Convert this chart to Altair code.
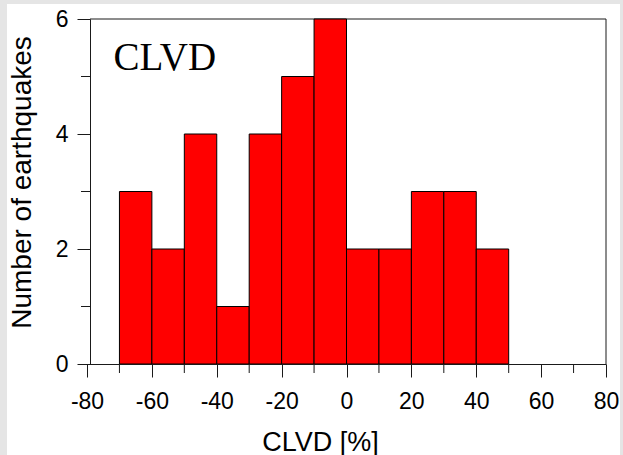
import altair as alt
import pandas as pd

# Histogram of CLVD percentages (10 % bins)
bin_start = [-70, -60, -50, -40, -30, -20, -10, 0, 10, 20, 30, 40]
bin_end = [-60, -50, -40, -30, -20, -10, 0, 10, 20, 30, 40, 50]
counts = [3, 2, 4, 1, 4, 5, 6, 2, 2, 3, 3, 2]

x_major = [-80, -60, -40, -20, 0, 20, 40, 60, 80]
x_minor = [-70, -50, -30, -10, 10, 30, 50, 70]
y_major = [0, 2, 4, 6]
y_minor = [1, 3, 5]

W, H = 519, 345
INK = "#1a1a1a"
SANS = "Liberation Sans"

bars_df = pd.DataFrame({"start": bin_start, "end": bin_end, "count": counts})
xminor_df = pd.DataFrame({"v": x_minor})
yminor_df = pd.DataFrame({"v": y_minor})
one = pd.DataFrame({"a": [0]})

xs = alt.Scale(domain=[-80, 80], nice=False, zero=False)
ys = alt.Scale(domain=[0, 6], nice=False, zero=False)

x_axis = alt.Axis(
    values=x_major, title="CLVD [%]", grid=False, zindex=1,
    tickSize=13, tickColor=INK, domainColor=INK, tickWidth=1, domainWidth=1,
    labelFont=SANS, labelFontSize=23, labelColor="black", labelPadding=13,
    labelFlush=False, labelOverlap=False, labelExpr="datum.value + ''",
    titleFont=SANS, titleFontSize=27, titleFontWeight="normal", titleColor="black",
    titleX=233, titleY=86, titleBaseline="alphabetic",
)
y_axis = alt.Axis(
    values=y_major, title="Number of earthquakes", grid=False, zindex=1, offset=-3,
    tickSize=13, tickColor=INK, domainColor=INK, tickWidth=1, domainWidth=1,
    labelFont=SANS, labelFontSize=23, labelColor="black", labelPadding=9,
    labelOverlap=False, labelExpr="datum.value + ''",
    titleFont=SANS, titleFontSize=28, titleFontWeight="normal", titleColor="black",
    titleY=163, titlePadding=19,
)

# white sheet behind the figure (the page itself is grey)
sheet = alt.Chart(one).mark_rect(fill="white").encode(
    x=alt.value(-80), x2=alt.value(533), y=alt.value(-15), y2=alt.value(441)
)

bars = alt.Chart(bars_df).mark_rect(fill="#ff0000", stroke="black", strokeWidth=1).encode(
    x=alt.X("start:Q", scale=xs, axis=x_axis),
    x2="end:Q",
    y=alt.Y("count:Q", scale=ys, axis=y_axis),
    y2=alt.datum(0),
)

# minor ticks
xminor = alt.Chart(xminor_df).mark_rule(color=INK, strokeWidth=1).encode(
    x=alt.X("v:Q", scale=xs, axis=x_axis),
    y=alt.value(H), y2=alt.value(H + 9),
)
yminor = alt.Chart(yminor_df).mark_rule(color=INK, strokeWidth=1).encode(
    y=alt.Y("v:Q", scale=ys, axis=y_axis),
    x=alt.value(-6), x2=alt.value(3),
)

# top and right frame lines
top = alt.Chart(one).mark_rule(color=INK, strokeWidth=1).encode(
    x=alt.value(3), x2=alt.value(W), y=alt.value(0)
)
right = alt.Chart(one).mark_rule(color=INK, strokeWidth=1).encode(
    x=alt.value(W), y=alt.value(0), y2=alt.value(H)
)

label = alt.Chart(one).mark_text(
    font="Liberation Serif", fontSize=39, align="left", baseline="alphabetic", color="black"
).encode(x=alt.datum(-71.8), y=alt.datum(5.12), text=alt.value("CLVD"))

chart = (
    alt.layer(sheet, top, right, xminor, yminor, bars, label)
    .properties(
        width=W, height=H,
        autosize=alt.AutoSizeParams(type="none"),
        padding={"left": 87, "top": 19, "right": 17, "bottom": 91},
        background="#e5e5e5",
    )
    .configure_view(stroke=None)
)

chart.save("out.html", embed_options={"renderer": "svg", "actions": False})
